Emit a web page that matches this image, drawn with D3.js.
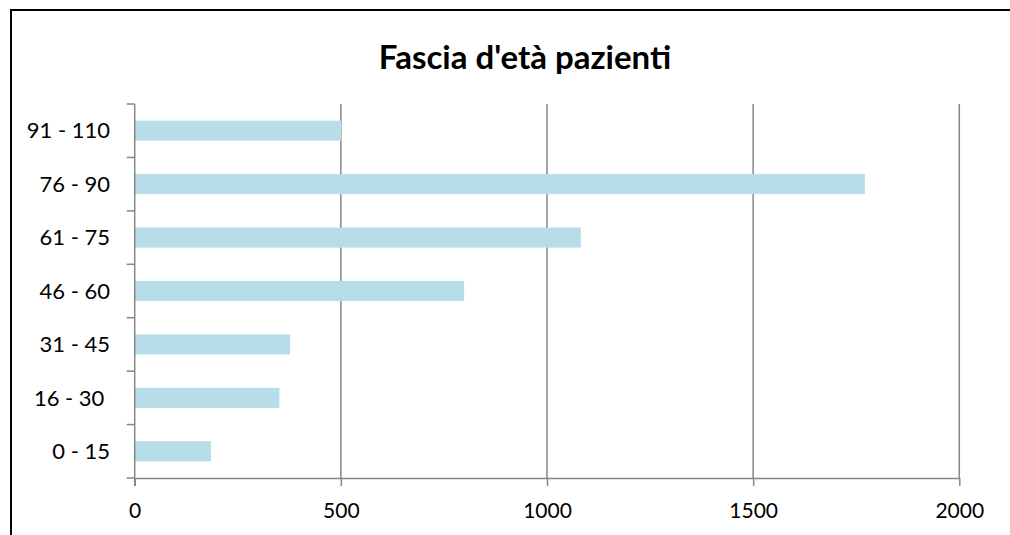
<!DOCTYPE html>
<html>
<head>
<meta charset="utf-8">
<script src="https://cdn.jsdelivr.net/npm/d3@7"></script>
<style>
  body { margin: 0; background: #fff; }
  svg { display: block; font-family: Lato, "Open Sans", sans-serif; }
  .ylabel { white-space: pre; }
</style>
</head>
<body>
<div id="chart"></div>
<script>
"use strict";

// data
const categories = ['0 - 15', '16 - 30 ', '31 - 45', '46 - 60', '61 - 75', '76 - 90', '91 - 110'];
const patients = [185, 351, 377, 799, 1082, 1771, 501];
const xTicks = [0, 500, 1000, 1500, 2000];
const title = "Fascia d'età pazienti";

const width = 1010, height = 535;
const svg = d3.select('#chart').append('svg').attr('width', width).attr('height', height);

// chart frame (runs off the right and bottom edges)
svg.append('rect')
   .attr('x', 11).attr('y', 10)
   .attr('width', 1020).attr('height', 560)
   .attr('fill', 'none').attr('stroke', '#000').attr('stroke-width', 2);

const plotLeft = 134.7, plotRight = 959.3, plotTop = 104, plotBottom = 478;

let x = d3.scaleLinear().domain([0, 2000]).range([plotLeft, plotRight]);
let y = d3.scaleBand().domain(categories.slice().reverse()).range([plotTop, plotBottom]).paddingInner(0.625).paddingOuter(0.3125);
let band = d3.scaleBand().domain(categories.slice().reverse()).range([plotTop, plotBottom]);

// vertical gridlines
svg.append('g').selectAll('line')
   .data(xTicks.filter(d => d > 0)).enter()
   .append('line')
   .attr('x1', d => x(d)).attr('x2', d => x(d))
   .attr('y1', plotTop).attr('y2', plotBottom)
   .attr('stroke', '#878787').attr('stroke-width', 1.5);

// bars
svg.append('g').selectAll('rect')
   .data(categories).enter()
   .append('rect')
   .attr('x', x(0))
   .attr('y', d => y(d))
   .attr('width', (d, i) => x(patients[i]) - x(0))
   .attr('height', y.bandwidth())
   .attr('fill', '#b7dde8');

// x axis
let xAxis = d3.axisBottom(x).tickValues(xTicks).tickFormat(d3.format('d'))
              .tickSize(8).tickPadding(17).tickSizeOuter(0);
let gx = svg.append('g').attr('transform', `translate(0,${plotBottom})`).call(xAxis);
gx.select('.domain').attr('stroke', '#878787').attr('stroke-width', 1.5);
gx.selectAll('.tick line').attr('stroke', '#878787').attr('stroke-width', 1.5);
gx.selectAll('.tick text').attr('fill', '#000').style('font-size', '21px').style('font-family', 'Lato, sans-serif');

// y axis: ticks at the band boundaries
let yAxis = svg.append('g');
yAxis.append('line')
     .attr('x1', plotLeft).attr('x2', plotLeft).attr('y1', plotTop).attr('y2', plotBottom + 8)
     .attr('stroke', '#878787').attr('stroke-width', 1.5);
let boundaries = d3.range(categories.length + 1).map(i => plotTop + i * band.step());
yAxis.selectAll('.ytick')
     .data(boundaries).enter()
     .append('line').attr('class', 'ytick')
     .attr('x1', plotLeft - 8).attr('x2', plotLeft)
     .attr('y1', d => d).attr('y2', d => d)
     .attr('stroke', '#878787').attr('stroke-width', 1.5);
yAxis.selectAll('text')
     .data(categories).enter()
     .append('text')
     .attr('class', 'ylabel')
     .attr('x', 110)
     .attr('y', d => band(d) + band.bandwidth() / 2)
     .attr('dy', '0.35em')
     .attr('text-anchor', 'end')
     .style('font-size', '22px')
     .text(d => d);

// title
svg.append('text')
   .attr('x', 525).attr('y', 69)
   .attr('text-anchor', 'middle')
   .style('font-size', '33px').style('font-weight', 'bold')
   .text(title);
</script>
</body>
</html>
